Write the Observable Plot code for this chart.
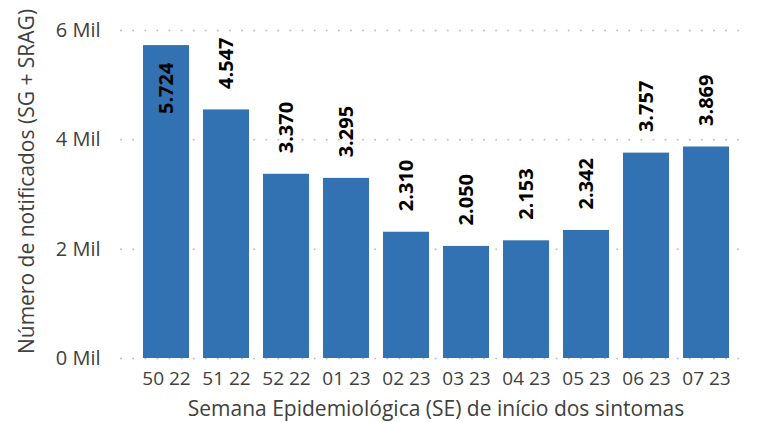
<!DOCTYPE html>
<html><head><meta charset="utf-8">
<script src="https://cdn.jsdelivr.net/npm/d3@7"></script>
<script src="https://cdn.jsdelivr.net/npm/@observablehq/plot@0.6"></script>
<style>
body{margin:0;background:#fff}
svg g[aria-label^="y-axis"] text{font-size:20px}
svg g[aria-label^="x-axis"] text{font-size:19px}
</style>
</head><body><div id="chart"></div>
<script>
const weeks = ["50 22","51 22","52 22","01 23","02 23","03 23","04 23","05 23","06 23","07 23"];
const cases = [5724,4547,3370,3295,2310,2050,2153,2342,3757,3869];
const yTicks = [0,2000,4000,6000];
const yTickLabels = ["0 Mil","2 Mil","4 Mil","6 Mil"];
const xTitle = "Semana Epidemiológica (SE) de início dos sintomas";
const yTitle = "Número de notificados (SG + SRAG)";

const data = weeks.map((w,i)=>({week:w, value:cases[i]}));
const fmt = v => d3.format(",")(v).replace(/,/g,".");
const insideLimit = 5000;

const chart = Plot.plot({
  width:758, height:422,
  marginLeft:121, marginRight:8, marginTop:30, marginBottom:64,
  style:{fontFamily:"Open Sans", fontSize:"19px", color:"#404040", background:"#fff"},
  x:{domain:weeks, paddingInner:0.24, paddingOuter:0.3, tickSize:0, tickPadding:13, label:null},
  y:{domain:[0,6000], ticks:yTicks, tickFormat:(d)=>yTickLabels[yTicks.indexOf(d)],
     tickSize:0, tickPadding:21, label:null},
  marks:[
    Plot.ruleY(yTicks,{stroke:"#c4c4c4", strokeWidth:2, strokeDasharray:"0.1,12", strokeLinecap:"round"}),
    Plot.barY(data,{x:"week", y:"value", fill:"#3372b2"}),
    Plot.text(data.filter(d=>d.value<insideLimit),{x:"week", y:"value", text:d=>fmt(d.value),
      rotate:-90, textAnchor:"start", dy:-21, fontWeight:"bold", fontSize:20, fill:"#000"}),
    Plot.text(data.filter(d=>d.value>=insideLimit),{x:"week", y:"value", text:d=>fmt(d.value),
      rotate:-90, textAnchor:"end", dy:17, fontWeight:"bold", fontSize:20, fill:"#000"}),
    Plot.text([xTitle],{frameAnchor:"bottom", text:d=>d, textAnchor:"middle", dy:57, fontSize:21, fill:"#404040"}),
    Plot.text([yTitle],{frameAnchor:"left", text:d=>d, textAnchor:"middle", lineAnchor:"middle", rotate:-90, dx:-94, dy:-13, fontSize:21, fill:"#404040"})
  ]
});
document.getElementById("chart").appendChild(chart);
</script>
</body></html>
